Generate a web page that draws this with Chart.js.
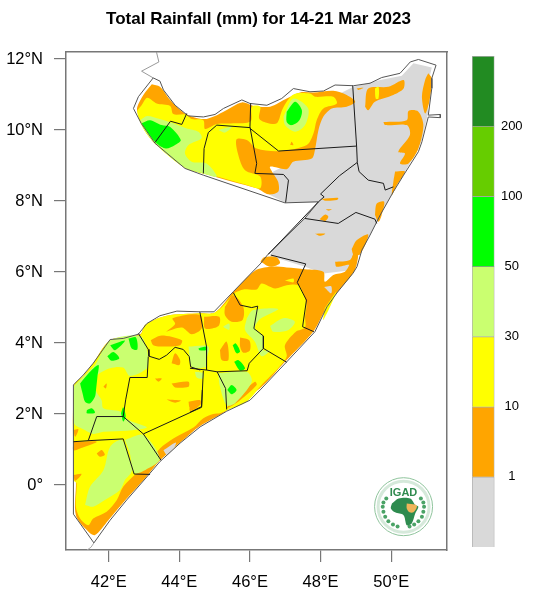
<!DOCTYPE html>
<html><head><meta charset="utf-8">
<style>html,body{margin:0;padding:0;background:#fff;width:537px;height:600px;overflow:hidden}
canvas{position:absolute;top:0}#map{left:0}#bar{left:460px}</style>
<script src="https://cdn.jsdelivr.net/npm/chart.js@4"></script></head>
<body><canvas id="map" width="517" height="600"></canvas><canvas id="bar" width="77" height="600"></canvas>
<script>
const chartTitle = 'Total Rainfall (mm) for 14-21 Mar 2023';
const lonTicks = [42,44,46,48,50];
const latTicks = [0,2,4,6,8,10,12];
const lonRange = [40.79,51.58];
const latRange = [-1.83,12.2];
const binEdges = ['','1','10','30','50','100','200',''];
const binNames = ['<1','1-10','10-30','30-50','50-100','100-200','>200'];
const binColors = ['#d9d9d9','#ffa500','#ffff00','#caff70','#00ff00','#66cd00','#228b22'];
const binHeights = [1,1,1,1,1,1,1];

const countryOutline = [[43.26,11.47],[43.45,11.38],[43.55,11.13],[43.88,10.70],[44.25,10.40],[44.68,10.37],[45.01,10.44],[45.25,10.61],[45.77,10.85],[46.00,10.75],[46.48,10.70],[46.90,10.89],[47.23,11.17],[47.70,11.08],[48.08,11.10],[48.41,11.27],[48.93,11.25],[49.40,11.32],[49.73,11.48],[50.25,11.60],[50.54,11.92],[50.77,11.99],[51.27,11.83],[51.15,11.46],[51.15,11.18],[51.05,10.42],[51.39,10.44],[51.39,10.35],[51.05,10.37],[50.87,9.67],[50.77,9.39],[50.35,8.73],[50.06,8.26],[49.69,7.61],[49.40,7.04],[49.17,6.62],[49.03,6.15],[48.92,5.97],[48.46,5.41],[48.18,5.02],[47.84,4.32],[47.04,3.47],[46.29,2.68],[46.00,2.39],[45.34,2.08],[44.59,1.64],[44.02,1.18],[43.45,0.66],[43.08,0.23],[42.51,-0.42],[42.04,-0.99],[41.58,-1.63],[41.00,-0.82],[41.00,1.22],[41.00,2.82],[41.28,3.10],[41.56,3.43],[42.04,4.10],[42.41,4.13],[42.84,4.25],[43.08,4.55],[43.45,4.77],[43.93,4.90],[44.59,4.88],[44.98,4.88],[45.53,5.45],[46.29,6.23],[46.51,6.50],[47.56,7.52],[47.94,7.98],[46.99,7.95],[44.68,8.73],[44.16,8.92],[43.31,9.63],[42.92,10.19],[42.70,10.61],[42.84,10.94],[43.26,11.47]];
const neighbourBorderNorth = [[43.34,12.25],[43.42,11.92],[42.93,11.66],[43.26,11.47]];
const neighbourBorderSouth = [[41.58,-1.63],[41.50,-1.75],[41.36,-1.85]];

const adminBorders = [
 [[44.21,10.47],[44.07,10.16],[43.75,10.25],[43.31,9.65]],
 [[46.02,10.75],[46.00,10.09],[46.19,9.06],[46.14,8.78]],
 [[46.00,10.07],[45.06,10.14],[44.82,9.93],[44.70,9.48],[44.68,8.78]],
 [[46.00,10.05],[46.81,9.41],[49.02,9.55]],
 [[48.91,11.25],[49.02,9.55],[49.04,9.09],[49.09,8.83],[49.35,8.59],[49.78,8.50],[49.83,8.31],[50.06,8.40]],
 [[49.04,9.09],[48.53,8.71],[48.00,8.20],[48.10,8.12],[47.94,7.98],[46.52,6.50]],
 [[46.14,8.78],[46.95,8.75],[47.09,8.59],[47.01,7.96]],
 [[47.56,7.51],[48.50,7.37],[49.00,7.68],[49.54,7.49],[49.59,7.37]],
 [[46.59,6.48],[47.58,6.23],[47.34,5.71],[47.60,5.21],[47.49,4.46],[47.81,4.32]],
 [[45.53,5.42],[45.72,5.07],[46.05,5.00],[46.22,5.04],[46.11,4.41],[46.38,4.20],[46.38,3.85],[45.98,3.43],[45.92,3.22],[45.07,3.19],[44.77,3.24],[44.30,3.29]],
 [[46.38,3.85],[47.04,3.46]],
 [[44.58,4.88],[44.77,3.90],[44.77,3.24]],
 [[45.07,3.19],[45.31,2.72],[45.34,2.13]],
 [[44.68,3.22],[44.63,2.21],[44.30,2.05]],
 [[42.84,4.27],[43.12,3.82],[43.14,3.63],[43.43,3.54],[43.64,3.66],[43.88,3.88],[44.11,3.82],[44.28,3.62],[44.32,3.33],[44.59,3.24]],
 [[43.12,3.62],[43.09,3.03],[42.60,3.03],[42.48,2.40],[42.41,1.93]],
 [[42.41,1.93],[41.66,1.93],[41.42,1.25],[41.00,1.22]],
 [[41.42,1.25],[42.41,1.30],[42.72,0.31],[43.17,0.30]],
 [[42.41,1.93],[42.98,1.44],[43.48,0.70]],
 [[42.98,1.44],[44.63,2.19],[44.65,2.68]]
];

const greyLand = [[[48.55,11.03],[48.93,11.22],[49.69,11.41],[50.30,11.53],[50.63,11.88],[51.15,11.76],[51.08,11.46],[50.99,11.03],[51.05,10.52],[50.87,9.72],[50.72,9.39],[50.06,8.26],[49.69,7.61],[49.40,7.04],[49.07,6.62],[48.93,6.06],[48.08,5.96],[47.56,6.15],[46.94,6.34],[46.57,6.43],[46.66,6.67],[47.61,7.60],[47.94,7.96],[46.99,7.96],[46.47,8.22],[46.66,8.83],[47.23,9.11],[47.89,10.05],[48.17,10.70]]];

const orangeBase = [
 [[43.22,11.29],[43.45,11.22],[43.74,10.85],[44.16,10.47],[44.68,10.31],[45.01,10.40],[45.29,10.54],[45.77,10.78],[46.10,10.68],[46.57,10.66],[47.04,10.89],[47.42,11.06],[47.80,11.06],[48.36,11.11],[48.74,10.99],[48.98,10.80],[48.74,10.66],[48.32,10.61],[48.08,10.38],[47.94,10.00],[47.84,9.44],[47.75,9.20],[47.23,9.11],[47.04,8.90],[46.57,8.97],[46.66,8.78],[46.80,8.54],[46.80,8.26],[46.52,8.19],[46.19,8.36],[45.53,8.54],[44.68,8.78],[44.16,8.94],[43.31,9.62],[42.98,10.05],[42.81,10.52],[42.81,10.66],[42.98,10.99]],
 [[45.53,5.45],[46.14,6.04],[46.57,6.15],[47.04,6.13],[47.56,6.08],[48.08,6.01],[48.12,5.73],[48.36,5.92],[48.69,6.01],[48.83,6.24],[48.97,6.62],[49.07,6.62],[48.97,6.06],[48.45,5.40],[48.08,4.84],[47.79,4.32],[46.99,3.47],[46.28,2.72],[45.34,2.16],[45.34,2.09],[44.59,1.66],[44.11,1.27],[43.45,0.69],[43.08,0.25],[42.51,-0.38],[41.99,-0.99],[41.61,-1.41],[41.42,-1.31],[41.07,-0.85],[41.07,0.10],[41.02,0.12],[41.02,2.80],[41.28,3.07],[41.56,3.43],[42.04,4.08],[42.89,4.25],[43.03,4.51],[43.64,4.77],[44.59,4.84],[45.01,4.86]],
 [[46.30,6.30],[46.40,6.42],[46.75,6.42],[46.85,6.25],[46.57,6.15]],
 [[49.26,10.66],[49.35,11.17],[49.92,11.22],[50.35,11.41],[50.35,11.17],[50.06,10.99],[49.54,10.80],[49.35,10.56]],
 [[49.02,11.17],[49.21,11.19],[49.07,11.13]],
 [[51.05,11.60],[51.15,11.46],[51.08,10.80],[50.96,10.47],[50.87,10.94],[50.96,11.41]],
 [[49.78,10.23],[50.44,10.28],[50.49,10.54],[50.77,10.52],[50.91,10.14],[50.77,9.48],[50.49,9.06],[50.25,9.06],[50.39,9.34],[50.20,9.39],[50.53,9.86],[50.44,10.14],[49.83,10.14]],
 [[50.11,8.83],[50.39,8.83],[50.16,8.45],[50.02,8.17],[50.06,8.54]],
 [[49.54,7.61],[49.59,7.93],[49.80,7.98],[49.73,7.61],[49.64,7.42]],
 [[48.03,8.06],[48.50,8.09],[48.46,8.03],[48.13,8.01]],
 [[48.15,7.77],[48.32,7.77],[48.22,7.73]],
 [[47.97,7.49],[48.13,7.62],[48.22,7.56],[48.13,7.44]],
 [[47.84,7.08],[48.13,7.08],[47.99,7.02]],
 [[48.88,6.65],[49.02,6.90],[49.35,7.06],[49.12,6.50],[48.93,6.50]],
 [[48.41,6.29],[48.83,6.34],[49.00,6.62],[49.09,6.62],[48.93,6.06],[48.74,5.96],[48.83,6.20],[48.45,6.15]]
];

const greyGaps = [
 [[43.85,4.62],[44.05,4.65],[43.95,4.54]],
 [[44.55,4.80],[44.75,4.78],[45.10,4.62],[44.90,4.68],[44.70,4.70]],
 [[43.55,0.98],[43.90,1.20],[43.85,1.05],[43.65,0.85]],
 [[48.10,5.58],[48.30,5.60],[48.30,5.40]]
];

const yellowFields = [
 [[42.93,10.70],[43.09,10.91],[43.36,10.75],[43.74,10.68],[43.83,10.45],[44.19,10.44],[44.35,10.31],[44.68,10.28],[44.73,10.03],[45.06,10.17],[45.53,10.19],[46.02,10.25],[46.05,10.66],[46.29,10.66],[46.26,10.33],[46.47,10.21],[46.76,10.19],[46.93,10.61],[47.23,11.00],[47.70,11.03],[47.84,10.94],[48.36,10.94],[48.46,10.75],[48.08,10.61],[47.89,10.28],[47.80,9.91],[47.61,9.58],[46.85,9.41],[46.19,9.48],[45.91,9.72],[45.62,9.74],[45.67,9.30],[45.86,8.87],[46.29,8.69],[46.29,8.36],[45.91,8.45],[45.06,8.69],[44.16,8.94],[43.31,9.62],[42.98,10.05],[42.81,10.52]],
 [[45.57,5.42],[45.81,5.51],[46.19,5.51],[46.33,5.68],[46.71,5.54],[47.04,5.63],[47.37,5.63],[47.51,5.40],[47.60,5.07],[47.56,4.74],[47.56,4.44],[47.30,4.32],[46.99,3.94],[47.04,3.62],[46.80,3.29],[46.52,3.01],[46.33,2.82],[45.91,2.35],[45.48,2.16],[45.15,2.02],[44.96,2.00],[44.68,1.88],[44.40,1.62],[43.83,1.31],[43.45,1.03],[43.17,0.66],[42.79,0.33],[42.41,-0.05],[42.23,-0.42],[41.94,-0.75],[41.56,-0.94],[41.42,-1.13],[41.19,-0.94],[41.07,-0.61],[41.09,0.05],[41.02,0.12],[41.02,2.80],[41.28,3.07],[41.56,3.43],[42.04,4.07],[42.89,4.23],[43.03,4.51],[43.64,4.77],[44.59,4.84],[45.01,4.86]],
 [[48.12,4.98],[48.45,5.45],[48.08,4.65]],
 [[46.99,5.76],[47.23,5.82],[47.23,5.71]],
 [[49.54,11.17],[49.64,11.22],[49.64,10.89],[49.56,10.89]]
];

const orangePatches = [
 [[47.14,9.58],[47.23,9.58],[47.18,9.67]],
 [[43.62,4.32],[43.88,4.54],[43.81,4.70],[44.59,4.79],[44.63,4.41],[44.35,4.25],[44.07,4.44]],
 [[44.70,4.74],[45.13,4.74],[45.11,4.48],[44.73,4.41]],
 [[43.19,4.08],[43.50,4.21],[44.07,4.08],[44.02,3.94],[43.55,3.90],[43.26,3.94]],
 [[43.78,3.43],[43.88,3.71],[44.02,3.52],[44.00,3.38]],
 [[43.31,3.00],[43.50,3.00],[43.41,2.91]],
 [[43.78,2.86],[44.26,2.91],[44.26,2.77],[43.88,2.75]],
 [[43.64,2.41],[44.04,2.38],[43.88,2.32]],
 [[44.26,2.35],[44.59,2.39],[44.59,2.25],[44.30,2.19]],
 [[41.89,2.04],[42.08,2.11],[42.13,2.04],[41.92,1.97]],
 [[41.00,1.55],[41.14,1.57],[41.05,1.36]],
 [[41.00,1.22],[41.66,1.22],[41.19,1.03],[41.00,0.98]],
 [[41.66,0.89],[41.80,0.99],[41.89,0.85],[41.75,0.80]],
 [[41.00,0.28],[41.23,0.31],[41.05,0.12]],
 [[45.29,5.02],[45.53,5.35],[45.81,5.02],[45.79,4.65],[45.48,4.60],[45.29,4.79]],
 [[45.15,3.80],[45.34,4.04],[45.39,3.52],[45.20,3.52]],
 [[45.72,4.16],[45.98,4.08],[46.00,3.80],[45.81,3.73],[45.72,3.90]],
 [[45.57,2.44],[46.14,2.91],[46.19,2.82],[45.72,2.39],[45.34,2.16]],
 [[44.30,2.30],[44.58,2.39],[44.54,2.21],[44.30,2.09]],
 [[41.85,2.77],[41.94,2.86],[41.92,2.72]]
];

const lightGreenFields = [
 [[42.89,10.28],[43.09,10.40],[43.45,10.31],[43.83,10.19],[44.19,10.05],[44.54,9.95],[44.63,9.77],[44.26,9.58],[44.16,9.34],[44.35,9.11],[44.77,9.06],[45.06,8.69],[44.68,8.78],[44.16,8.94],[43.31,9.62],[42.98,10.05]],
 [[46.95,10.38],[47.23,10.89],[47.65,10.61],[47.56,10.14],[47.28,9.95],[46.99,10.14]],
 [[45.11,10.00],[45.48,10.09],[45.29,9.93]],
 [[41.02,2.79],[41.33,3.10],[41.61,3.38],[42.04,4.07],[42.89,4.20],[43.06,3.90],[43.12,3.52],[43.09,3.29],[42.60,3.07],[42.41,3.31],[42.04,3.29],[41.66,3.07],[41.63,2.68],[41.80,2.39],[41.85,2.16],[42.32,2.07],[42.56,1.83],[43.08,1.62],[42.51,1.53],[41.85,1.50],[41.56,1.44],[41.28,1.57],[41.02,1.74]],
 [[41.33,-0.56],[41.47,-0.05],[41.85,0.42],[42.04,1.08],[42.37,1.27],[42.60,0.70],[42.65,0.38],[42.46,0.14],[42.32,-0.14],[41.89,-0.42],[41.56,-0.61]],
 [[42.46,1.27],[42.98,1.41],[43.45,0.75],[43.12,0.47],[42.72,0.33],[42.60,0.89]],
 [[44.26,3.90],[44.82,3.90],[44.77,3.52],[44.77,3.33],[44.35,3.33]],
 [[45.91,4.70],[46.09,4.93],[46.80,4.96],[46.28,4.67],[46.14,4.41],[46.38,4.18],[46.38,3.80],[46.57,3.80],[46.33,3.63],[46.14,4.04],[45.86,4.37]],
 [[46.57,4.48],[46.94,4.70],[47.27,4.60],[47.09,4.37],[46.66,4.32]],
 [[45.10,3.15],[45.91,3.19],[46.05,2.91],[45.57,2.30],[45.34,2.25],[45.15,2.77]],
 [[45.24,4.46],[45.41,4.55],[45.41,4.37]],
 [[44.44,3.19],[44.68,3.15],[44.66,3.00],[44.49,3.03]]
];

const greenFields = [
 [[47.04,10.52],[47.28,10.80],[47.47,10.56],[47.40,10.28],[47.18,10.14],[47.04,10.23]],
 [[42.93,10.19],[43.17,10.28],[43.50,10.14],[43.74,10.09],[44.04,9.72],[43.88,9.58],[43.62,9.48],[43.36,9.62],[43.12,9.91]],
 [[41.19,2.86],[41.47,3.19],[41.71,3.38],[41.68,3.05],[41.64,2.68],[41.61,2.49],[41.47,2.30],[41.33,2.35],[41.26,2.58]],
 [[42.04,3.94],[42.46,4.07],[42.18,3.80]],
 [[42.56,4.13],[42.77,4.16],[42.81,3.82],[42.65,3.85]],
 [[41.96,3.63],[42.13,3.75],[42.30,3.57],[42.08,3.50]],
 [[41.38,2.11],[41.52,2.16],[41.61,2.04],[41.38,2.02]],
 [[42.35,2.02],[42.41,2.19],[42.48,1.94],[42.41,1.79]],
 [[44.54,3.85],[44.77,3.90],[44.75,3.80],[44.57,3.80]],
 [[45.51,3.94],[45.60,3.99],[45.72,3.76],[45.62,3.71]],
 [[45.55,3.47],[45.67,3.52],[45.86,3.29],[45.72,3.22]],
 [[45.36,2.68],[45.48,2.82],[45.62,2.68],[45.48,2.56]]
];

const logoCentre = [[50.35,-0.61]];
const logoName = 'IGAD';
const logoAfrica = [[50.02,-0.52],[50.21,-0.38],[50.54,-0.38],[50.68,-0.56],[50.77,-0.61],[50.68,-0.80],[50.58,-1.08],[50.44,-1.13],[50.35,-0.85],[50.11,-0.77],[49.99,-0.66]];
const logoHorn = [[50.44,-0.52],[50.68,-0.55],[50.73,-0.61],[50.63,-0.77],[50.52,-0.77],[50.44,-0.66]];
const logoWreath = [[49.86,-0.38],[49.78,-0.49],[49.76,-0.61],[49.78,-0.75],[49.83,-0.89],[49.92,-1.02],[50.05,-1.11],[50.18,-1.17],[50.84,-0.38],[50.91,-0.49],[50.93,-0.61],[50.91,-0.75],[50.87,-0.89],[50.77,-1.02],[50.65,-1.11],[50.52,-1.17]];

const pts = a => a.map(([x,y]) => ({x,y}));
const area = (shape,color,t=0.3) => ({data:pts(shape.concat([shape[0]])),showLine:true,fill:'shape',backgroundColor:color,borderColor:color,borderWidth:0,pointRadius:0,tension:t});
const stroke = (line,color,w) => ({data:pts(line),showLine:true,fill:false,borderColor:color,borderWidth:w,pointRadius:0,tension:0});
const dot = (p,r,fillC,lineC,w) => ({data:pts(p),showLine:false,pointRadius:r,pointBackgroundColor:fillC,pointBorderColor:lineC,pointBorderWidth:w,pointHoverRadius:r});

const layers = [
 ...greyLand.map(s=>area(s,binColors[0],0)),
 ...orangeBase.map(s=>area(s,binColors[1])),
 ...greyGaps.map(s=>area(s,binColors[0])),
 ...yellowFields.map(s=>area(s,binColors[2])),
 ...orangePatches.map(s=>area(s,binColors[1])),
 ...lightGreenFields.map(s=>area(s,binColors[3])),
 ...greenFields.map(s=>area(s,binColors[4])),
 stroke(neighbourBorderNorth,'#999999',1),
 stroke(neighbourBorderSouth,'#aaaaaa',1),
 stroke(countryOutline,'#555555',1),
 ...adminBorders.map(l=>stroke(l,'#1a1a1a',1)),
 dot(logoCentre,29,'#ffffff','#8fc49c',1),
 dot(logoCentre,25.5,'rgba(255,255,255,0)','#d5e9da',3),
 dot(logoWreath,2,'#4aa366','#4aa366',0),
 area(logoAfrica,'#2e8b4f'),
 area(logoHorn,'#f0b45a')
];
layers.forEach((d,i)=>{d.order=layers.length-i;});

const frameColor='#777777';
const logoText = {id:'logoText',afterDatasetsDraw(c){
  const g=c.ctx,x=c.scales.x.getPixelForValue(logoCentre[0][0]),y=c.scales.y.getPixelForValue(logoCentre[0][1]);
  g.save();g.font='bold 11px "Liberation Sans"';g.fillStyle='#2f8a4e';g.textAlign='center';g.textBaseline='middle';
  g.fillText(logoName,x,y-14);g.restore();
}};

new Chart(document.getElementById('map'),{
 type:'scatter',
 data:{datasets:layers},
 plugins:[logoText],
 options:{
  responsive:false,animation:false,events:[],
  layout:{padding:0},
  plugins:{legend:{display:false},tooltip:{enabled:false},
   title:{display:true,text:chartTitle,color:'#000',font:{family:'"Liberation Sans"',size:17,weight:'bold'},padding:{top:9,bottom:22.6}}},
  scales:{
   x:{type:'linear',position:'bottom',min:lonRange[0],max:lonRange[1],
      afterBuildTicks:s=>{s.ticks=lonTicks.map(value=>({value}));},afterFit:s=>{s.height=50;},
      grid:{drawOnChartArea:false,tickLength:12,color:frameColor,lineWidth:1.2},border:{color:frameColor,width:1.5},
      ticks:{autoSkip:false,maxRotation:0,padding:11,color:'#000',font:{family:'"Liberation Sans"',size:16.5},callback:v=>v+'°E'}},
   y:{type:'linear',position:'left',min:latRange[0],max:latRange[1],
      afterBuildTicks:s=>{s.ticks=latTicks.map(value=>({value}));},afterFit:s=>{s.width=66;},
      grid:{drawOnChartArea:false,tickLength:12,color:frameColor,lineWidth:1.2},border:{color:frameColor,width:1.5},
      ticks:{autoSkip:false,padding:11,color:'#000',font:{family:'"Liberation Sans"',size:16.5},callback:v=>v===0?'0°':v+'°N'}},
   xTop:{type:'linear',position:'top',min:lonRange[0],max:lonRange[1],afterFit:s=>{s.height=0;},
      grid:{display:false},border:{display:true,color:frameColor,width:1.5},ticks:{display:false}},
   yRight:{type:'linear',position:'right',min:latRange[0],max:latRange[1],afterFit:s=>{s.width=70;},
      grid:{display:false},border:{display:true,color:frameColor,width:1.5},ticks:{display:false}}
  }
 }
});

new Chart(document.getElementById('bar'),{
 type:'bar',
 data:{labels:['mm'],datasets:binNames.map((n,i)=>({label:n,data:[binHeights[i]],backgroundColor:binColors[i],borderColor:'rgba(70,70,70,0.45)',borderWidth:1,barPercentage:1,categoryPercentage:1}))},
 options:{
  responsive:false,animation:false,events:[],
  layout:{padding:{top:56,bottom:53,left:12,right:0}},
  plugins:{legend:{display:false},tooltip:{enabled:false},title:{display:false}},
  scales:{
   x:{stacked:true,display:false},
   y:{stacked:true,position:'right',min:0,max:binHeights.length,
      afterBuildTicks:s=>{s.ticks=binEdges.map((_,value)=>({value}));},afterFit:s=>{s.width=42.5;},
      grid:{display:false,drawTicks:false},border:{display:false},
      ticks:{autoSkip:false,padding:6.4,align:'center',crossAlign:'center',color:'#000',font:{family:'"Liberation Sans"',size:13},callback:v=>binEdges[v]}}
  }
 }
});
</script></body></html>
